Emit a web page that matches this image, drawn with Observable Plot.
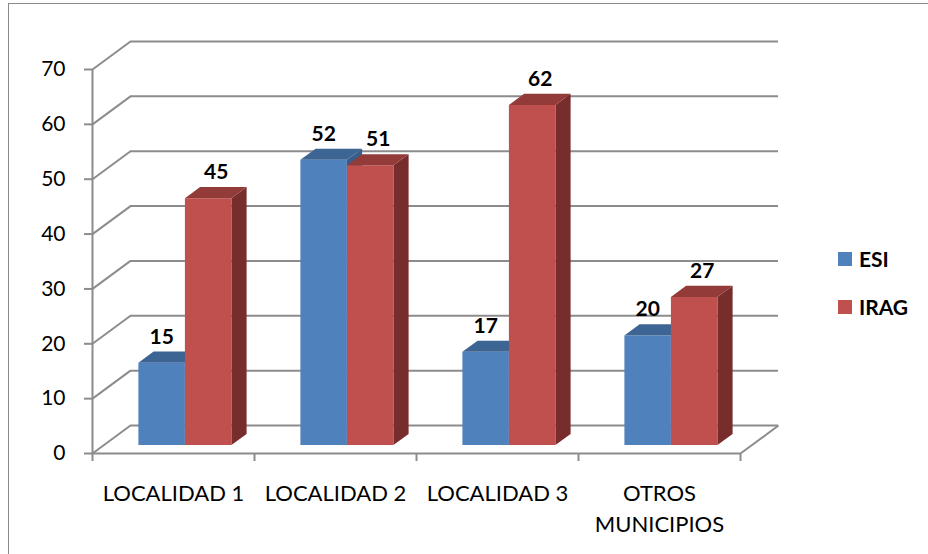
<!DOCTYPE html>
<html>
<head>
<meta charset="utf-8">
<script src="https://cdn.jsdelivr.net/npm/d3@7"></script>
<script src="https://cdn.jsdelivr.net/npm/@observablehq/plot@0.6"></script>
<style>
  html, body { margin: 0; padding: 0; background: #fff; }
  #wrap { position: relative; width: 928px; height: 554px; overflow: hidden; font-family: Lato, "Open Sans", sans-serif; }
  #frame { position: absolute; left: 8px; top: 3px; width: 1000px; height: 700px; border: 1px solid #8a8a8a; box-sizing: border-box; }
  #chart { position: absolute; left: 0; top: 0; }
  .lg { position: absolute; left: 838px; display: flex; align-items: center; font-weight: bold; font-size: 21px; color: #000; }
  .lg span.sw { display: inline-block; width: 14px; height: 14px; margin-right: 7px; }
</style>
</head>
<body>
<div id="wrap">
  <div id="frame"></div>
  <div id="chart"></div>
  <div class="lg" style="top:246px"><span class="sw" style="background:#4F81BD"></span>ESI</div>
  <div class="lg" style="top:294px"><span class="sw" style="background:#C0504D"></span>IRAG</div>
</div>
<script>
// ---- data ----
const categories = ["LOCALIDAD 1", "LOCALIDAD 2", "LOCALIDAD 3", "OTROS\nMUNICIPIOS"];
const seriesNames = ["ESI", "IRAG"];
const esiValues = [15, 52, 17, 20];
const iragValues = [45, 51, 62, 27];
const yTicks = [0, 10, 20, 30, 40, 50, 60, 70];

// ---- layout ----
const W = 928, H = 554;
const mL = 92, mR = 188, mT = 69, mB = 101;
const kx = (W - mL - mR) / categories.length;   // px per category unit
const ky = (H - mT - mB) / 70;                  // px per value unit
const DX = 38 / kx, DY = 28 / ky;               // floor depth in data units
const f0 = 0.3, f1 = 0.7;                        // bar depth (fraction of floor)
const bw = 46.5 / kx;                            // bar width in category units

const colors = {
  ESI: {front: "#4F81BD", top: "#3C6594", side: "#385D8A"},
  IRAG: {front: "#C0504D", top: "#923B39", side: "#772D2B"}
};

const bars = [];
categories.forEach((c, i) => {
  [esiValues[i], iragValues[i]].forEach((v, s) => {
    bars.push({cat: c, i, s, name: seriesNames[s], v});
  });
});

const faces = [];
bars.forEach((b, k) => {
  const x0 = b.i + 0.5 - bw + b.s * bw + f0 * DX;
  const x1 = x0 + bw;
  const yb = f0 * DY;
  const ddx = (f1 - f0) * DX, ddy = (f1 - f0) * DY;
  const col = colors[b.name];
  const push = (id, fill, pts) => pts.forEach(([x, y]) => faces.push({id: k + "-" + id, fill, x, y}));
  push("side", col.side, [[x1, yb], [x1 + ddx, yb + ddy], [x1 + ddx, b.v + yb + ddy], [x1, b.v + yb]]);
  push("front", col.front, [[x0, yb], [x1, yb], [x1, b.v + yb], [x0, b.v + yb]]);
  push("top", col.top, [[x0, b.v + yb], [x1, b.v + yb], [x1 + ddx, b.v + yb + ddy], [x0 + ddx, b.v + yb + ddy]]);
});

const grid = "#8C8C8C";
const labelY = b => b.v + f0 * DY;
const labelX = b => b.i + 0.5 - bw + b.s * bw + f0 * DX + bw / 2;

const chart = Plot.plot({
  width: W,
  height: H,
  marginLeft: mL, marginRight: mR, marginTop: mT, marginBottom: mB,
  style: {fontFamily: "Lato, 'Open Sans', sans-serif", background: "transparent", overflow: "visible"},
  x: {type: "linear", domain: [0, categories.length], axis: null, label: null},
  y: {domain: [0, 70], axis: null, label: null},
  marks: [
    // back wall gridlines
    Plot.ruleY(yTicks, {y: d => d + DY, x1: DX, x2: categories.length + DX, stroke: grid, strokeWidth: 2}),
    // left wall diagonals
    Plot.link(yTicks, {x1: 0, y1: d => d, x2: DX, y2: d => d + DY, stroke: grid, strokeWidth: 2}),
    // floor front & right edges
    Plot.ruleY([0], {x1: 0, x2: categories.length, stroke: grid, strokeWidth: 2}),
    Plot.link([0], {x1: categories.length, y1: 0, x2: categories.length + DX, y2: DY, stroke: grid, strokeWidth: 2}),
    // y axis line
    Plot.ruleX([0], {y1: 0, y2: 70, stroke: grid, strokeWidth: 2}),
    Plot.axisY({ticks: yTicks, label: null, tickSize: 8, tickPadding: 19, fontSize: 21, stroke: grid, strokeWidth: 2, fill: "#000", tickFormat: d => String(d)}),
    Plot.axisX({ticks: d3.range(categories.length + 1), label: null, tickSize: 8, tickFormat: () => "", stroke: grid, strokeWidth: 2}),
    // bars (3D faces)
    Plot.line(faces, {x: "x", y: "y", z: "id", fill: "fill", stroke: "none", curve: "linear"}),
    // value labels
    Plot.text(bars.filter(b => b.s === 0), {x: labelX, y: labelY, text: b => String(b.v), dy: -26, fontSize: 21, fontWeight: "bold", fill: "#000"}),
    Plot.text(bars.filter(b => b.s === 1), {x: labelX, y: labelY, text: b => String(b.v), dx: 8, dy: -26, fontSize: 21, fontWeight: "bold", fill: "#000"}),
    // category labels
    Plot.text(categories, {x: (d, i) => i + 0.5, y: () => 0, text: d => d, dy: 25, lineAnchor: "top", lineHeight: 31 / 22, fontSize: 22, fill: "#000"})
  ]
});
document.getElementById("chart").appendChild(chart);
</script>
</body>
</html>
